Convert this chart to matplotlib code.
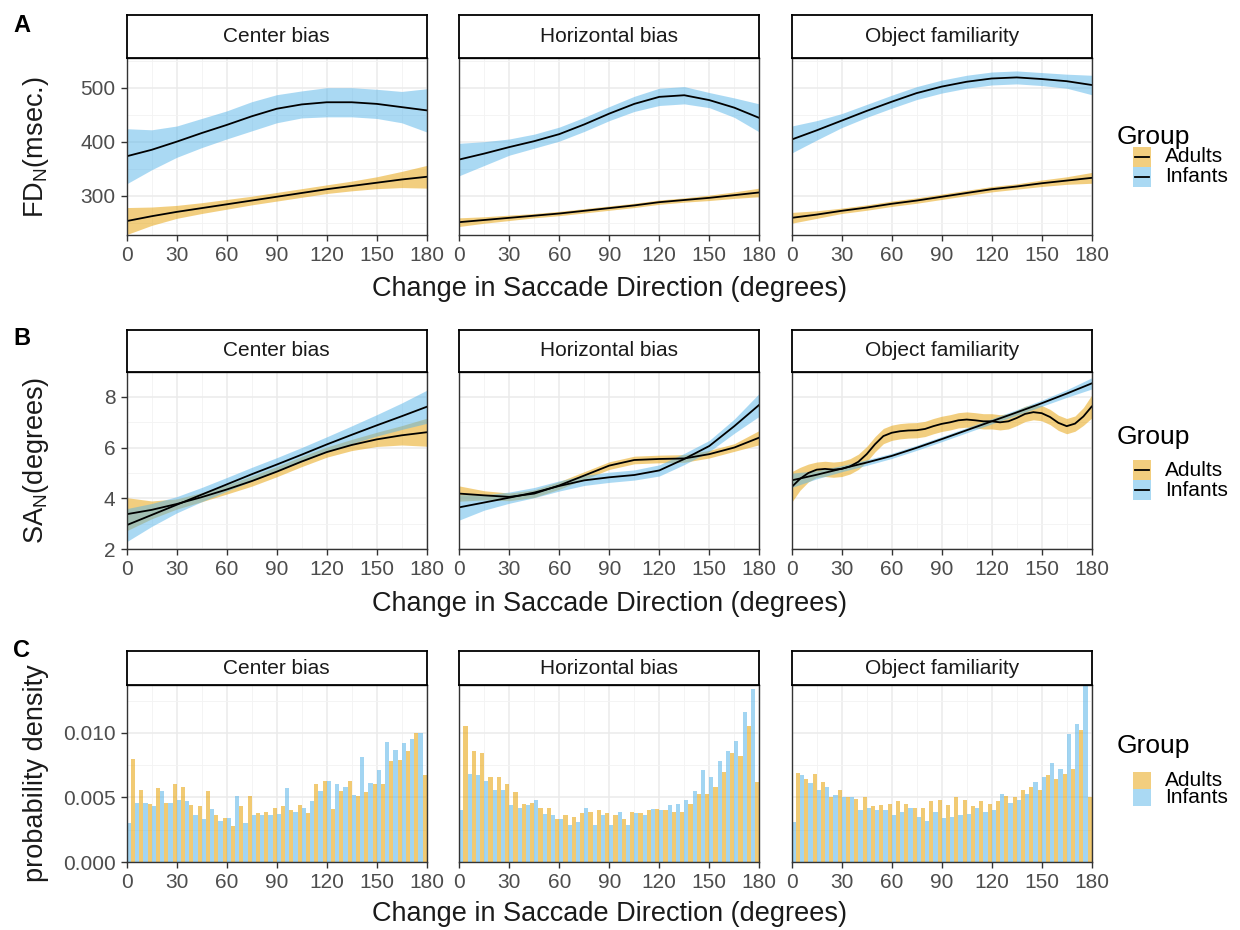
import numpy as np
import matplotlib
matplotlib.use("Agg")
import matplotlib.pyplot as plt
from matplotlib.patches import Rectangle
from matplotlib.lines import Line2D

plt.rcParams['font.family'] = ['Liberation Sans', 'DejaVu Sans']
plt.rcParams['mathtext.default'] = 'regular'

# ---- data ----
facets = ["Center bias", "Horizontal bias", "Object familiarity"]
groups = ["Adults", "Infants"]
colors = {"Adults": "#E69F00", "Infants": "#56B4E9"}

x15 = np.arange(0, 181, 15)
x5 = np.arange(0, 181, 5)

# A: fixation duration (msec), smooth fit and half-width of band
fd_fit = {
    ("Center bias", "Adults"): [253, 262, 270, 277, 284, 291, 298, 305, 312, 318, 324, 330, 335],
    ("Center bias", "Infants"): [373, 385, 400, 416, 431, 447, 461, 469, 473, 473, 470, 464, 458],
    ("Horizontal bias", "Adults"): [251, 255, 259, 263, 267, 272, 277, 282, 288, 292, 296, 301, 306],
    ("Horizontal bias", "Infants"): [367, 378, 390, 401, 414, 432, 452, 470, 483, 486, 477, 463, 444],
    ("Object familiarity", "Adults"): [259, 265, 272, 278, 285, 291, 298, 305, 312, 317, 323, 328, 333],
    ("Object familiarity", "Infants"): [404, 421, 439, 457, 474, 490, 502, 511, 517, 519, 516, 512, 505],
}
fd_ci = {
    ("Center bias", "Adults"): [25, 17, 12, 10, 9, 8, 8, 8, 8, 9, 11, 15, 21],
    ("Center bias", "Infants"): [51, 37, 29, 27, 26, 27, 26, 25, 27, 27, 27, 29, 40],
    ("Horizontal bias", "Adults"): [8, 6, 5, 4, 4, 4, 4, 4, 4, 4, 5, 6, 8],
    ("Horizontal bias", "Infants"): [30, 22, 15, 13, 13, 13, 13, 14, 16, 16, 14, 18, 26],
    ("Object familiarity", "Adults"): [10, 7, 5, 5, 5, 5, 5, 5, 5, 5, 6, 7, 10],
    ("Object familiarity", "Infants"): [25, 18, 13, 12, 12, 12, 12, 12, 12, 12, 12, 13, 18],
}

# B: saccade amplitude (degrees)
sa_fit = {
    ("Center bias", "Adults"): [3.38, 3.55, 3.78, 4.05, 4.35, 4.68, 5.05, 5.45, 5.82, 6.10, 6.32, 6.48, 6.60],
    ("Center bias", "Infants"): [2.95, 3.35, 3.75, 4.15, 4.55, 4.95, 5.33, 5.72, 6.12, 6.50, 6.87, 7.23, 7.60],
    ("Horizontal bias", "Adults"): [4.19, 4.12, 4.06, 4.19, 4.51, 4.90, 5.29, 5.51, 5.55, 5.57, 5.74, 6.00, 6.39],
    ("Horizontal bias", "Infants"): [3.65, 3.84, 4.03, 4.23, 4.49, 4.71, 4.83, 4.92, 5.10, 5.55, 6.06, 6.84, 7.68],
    ("Object familiarity", "Adults"): [4.45, 4.77, 5.00, 5.13, 5.16, 5.13, 5.16, 5.26, 5.44, 5.74, 6.13, 6.45,
                                       6.58, 6.64, 6.67, 6.68, 6.73, 6.84, 6.93, 6.99, 7.07, 7.10, 7.07, 7.03,
                                       7.03, 6.99, 7.03, 7.16, 7.32, 7.39, 7.35, 7.20, 6.97, 6.84, 6.94, 7.22, 7.61],
    ("Object familiarity", "Infants"): [4.71, 4.93, 5.17, 5.41, 5.67, 5.99, 6.33, 6.68, 7.03, 7.38, 7.74, 8.12, 8.52],
}
sa_ci = {
    ("Center bias", "Adults"): [0.65, 0.35, 0.20, 0.18, 0.18, 0.20, 0.20, 0.20, 0.20, 0.22, 0.28, 0.38, 0.55],
    ("Center bias", "Infants"): [0.65, 0.45, 0.32, 0.28, 0.27, 0.27, 0.27, 0.28, 0.30, 0.35, 0.42, 0.52, 0.65],
    ("Horizontal bias", "Adults"): [0.30, 0.18, 0.15, 0.15, 0.15, 0.15, 0.15, 0.15, 0.15, 0.15, 0.15, 0.15, 0.28],
    ("Horizontal bias", "Infants"): [0.50, 0.30, 0.22, 0.20, 0.20, 0.20, 0.20, 0.20, 0.22, 0.22, 0.22, 0.28, 0.45],
    ("Object familiarity", "Adults"): [0.60, 0.45, 0.35] + [0.30] * 32 + [0.35, 0.45],
    ("Object familiarity", "Infants"): [0.28, 0.16, 0.12, 0.11, 0.10, 0.10, 0.10, 0.10, 0.10, 0.11, 0.12, 0.15, 0.22],
}
sa_x = {"Center bias": (x15, x15), "Horizontal bias": (x15, x15), "Object familiarity": (x5, x15)}

# C: histogram, bins of 5 deg centred on 0..180 (per mille density)
adult_bins = np.arange(5, 181, 5)
infant_bins = np.arange(0, 176, 5)
hist_adults = {
    "Center bias": [8.0, 5.6, 4.5, 5.7, 4.6, 6.0, 5.8, 4.4, 4.3, 5.5, 3.6, 3.4, 2.8, 4.3, 5.1, 3.8, 3.9, 4.2,
                    4.3, 4.0, 4.4, 3.8, 6.0, 6.3, 4.1, 5.5, 6.3, 5.1, 5.4, 6.0, 6.0, 7.8, 7.9, 8.6, 10.0, 6.7],
    "Horizontal bias": [10.5, 8.6, 8.4, 6.6, 6.6, 6.0, 5.4, 4.5, 4.6, 4.2, 4.2, 3.3, 3.6, 3.5, 3.8, 3.9, 4.0, 3.8,
                        3.6, 3.3, 3.9, 3.8, 4.0, 4.1, 4.0, 3.9, 3.9, 4.5, 5.3, 5.3, 5.8, 7.0, 8.4, 8.2, 10.5, 6.2],
    "Object familiarity": [6.9, 6.4, 6.8, 6.2, 5.0, 5.6, 5.0, 4.9, 5.0, 4.3, 4.4, 4.5, 4.7, 4.5, 4.2, 4.2, 4.7, 4.8,
                           4.4, 5.0, 4.8, 4.3, 4.7, 4.5, 4.7, 5.1, 5.0, 5.6, 5.8, 5.6, 6.7, 6.4, 6.8, 7.2, 10.2, 5.0],
}
hist_infants = {
    "Center bias": [3.0, 4.6, 4.6, 4.3, 5.5, 4.6, 4.8, 4.7, 3.6, 3.3, 4.1, 3.2, 3.4, 5.1, 3.0, 3.6, 3.6, 3.6,
                    3.7, 5.7, 3.9, 4.2, 4.7, 5.5, 6.3, 6.0, 5.8, 5.2, 8.1, 6.1, 7.1, 9.3, 8.7, 9.2, 9.5, 10.0],
    "Horizontal bias": [4.0, 6.8, 6.7, 6.3, 5.6, 5.6, 4.4, 4.2, 4.4, 4.8, 3.7, 3.6, 3.3, 2.9, 3.1, 4.2, 2.9, 3.6,
                        2.9, 3.9, 2.9, 3.8, 3.6, 4.1, 4.0, 4.4, 4.5, 4.8, 5.5, 7.1, 6.6, 7.8, 8.6, 9.4, 11.6, 13.4],
    "Object familiarity": [3.1, 6.7, 6.1, 5.6, 5.8, 5.2, 5.0, 5.0, 4.0, 4.2, 4.0, 4.0, 3.6, 3.9, 4.2, 3.5, 3.2, 3.9,
                           3.4, 3.5, 3.6, 3.7, 4.2, 3.9, 4.0, 5.3, 4.6, 4.8, 5.3, 6.2, 6.6, 7.7, 7.2, 9.9, 10.7, 13.6],
}

# ---- layout (pixels) ----
W, H = 1240, 930
fig = plt.figure(figsize=(W / 100, H / 100), dpi=100)
panel_x = [(126.7, 426.7), (459.3, 759.3), (791.7, 1091.7)]
rows = {"A": ((15, 58.3), (58.3, 235)), "B": ((330, 371.7), (371.7, 549.3)), "C": ((651, 685), (685, 862))}


def px_axes(x0, y0, x1, y1):
    return fig.add_axes([x0 / W, 1 - y1 / H, (x1 - x0) / W, (y1 - y0) / H])


def style_panel(ax, ylim, yticks, yminor, show_y, labels=None):
    ax.set_xlim(0, 180)
    ax.set_xticks(range(0, 181, 30))
    ax.set_xticks(range(15, 180, 30), minor=True)
    ax.set_ylim(ylim)
    ax.set_yticks(yticks)
    if labels:
        ax.set_yticklabels(labels)
    ax.set_yticks(yminor, minor=True)
    ax.grid(which="major", color="#EBEBEB", lw=1.1)
    ax.grid(which="minor", color="#F3F3F3", lw=0.6)
    ax.set_axisbelow(True)
    for s in ax.spines.values():
        s.set_color("#333333")
        s.set_linewidth(1.0)
    ax.tick_params(which="major", length=4, width=1, color="#333333", labelsize=15,
                   labelcolor="#4D4D4D", pad=4)
    ax.tick_params(which="minor", length=0)
    if not show_y:
        ax.tick_params(axis="y", which="both", left=False, labelleft=False)


def strip(x0, x1, y0, y1, name):
    sax = px_axes(x0, y0, x1, y1)
    sax.set_xticks([])
    sax.set_yticks([])
    for s in sax.spines.values():
        s.set_color("black")
        s.set_linewidth(1.3)
    sax.text(0.5, 0.5, name, ha="center", va="center", fontsize=15, color="#1A1A1A",
             transform=sax.transAxes)


def legend(y_title, y_key, key_h, with_line):
    fig.text(1117 / W, 1 - y_title / H, "Group", fontsize=19, va="center", ha="left")
    for i, g in enumerate(groups):
        top = y_key + i * key_h
        fig.add_artist(Rectangle((1133 / W, 1 - (top + key_h) / H), 18 / W, key_h / H,
                                 transform=fig.transFigure, facecolor=colors[g], alpha=0.5, lw=0))
        yc = 1 - (top + key_h / 2) / H
        if with_line:
            fig.add_artist(Line2D([1135 / W, 1149 / W], [yc, yc], color="black", lw=1.3,
                                  transform=fig.transFigure))
        fig.text(1165 / W, yc, g, fontsize=15, va="center", ha="left")


# ---- row A ----
(sy0, sy1), (py0, py1) = rows["A"]
for i, f in enumerate(facets):
    x0, x1 = panel_x[i]
    ax = px_axes(x0, py0, x1, py1)
    for g in groups:
        fit = np.array(fd_fit[(f, g)], float)
        ci = np.array(fd_ci[(f, g)], float)
        ax.fill_between(x15, fit - ci, fit + ci, color=colors[g], alpha=0.5, lw=0)
        ax.plot(x15, fit, color="black", lw=1.3)
    style_panel(ax, (227.2, 554.4), [300, 400, 500], [250, 350, 450, 550], i == 0)
    strip(x0, x1, sy0, sy1, f)

# ---- row B ----
(sy0, sy1), (py0, py1) = rows["B"]
for i, f in enumerate(facets):
    x0, x1 = panel_x[i]
    ax = px_axes(x0, py0, x1, py1)
    for g, xx in zip(groups, sa_x[f]):
        fit = np.array(sa_fit[(f, g)], float)
        ci = np.array(sa_ci[(f, g)], float)
        ax.fill_between(xx, fit - ci, fit + ci, color=colors[g], alpha=0.5, lw=0)
        ax.plot(xx, fit, color="black", lw=1.3)
    style_panel(ax, (2.02, 8.98), [2, 4, 6, 8], [3, 5, 7], i == 0)
    strip(x0, x1, sy0, sy1, f)

# ---- row C ----
(sy0, sy1), (py0, py1) = rows["C"]
for i, f in enumerate(facets):
    x0, x1 = panel_x[i]
    ax = px_axes(x0, py0, x1, py1)
    ax.bar(adult_bins - 2.5, np.array(hist_adults[f]) / 1000, width=2.5, align="edge",
           color=colors["Adults"], alpha=0.55, lw=0)
    ax.bar(infant_bins, np.array(hist_infants[f]) / 1000, width=2.5, align="edge",
           color=colors["Infants"], alpha=0.55, lw=0)
    style_panel(ax, (0, 0.0137), [0, 0.005, 0.010], [0.0025, 0.0075, 0.0125], i == 0,
                labels=["0.000", "0.005", "0.010"])
    strip(x0, x1, sy0, sy1, f)

# ---- titles, labels, legends ----
for letter, y in [("A", 25), ("B", 338), ("C", 650)]:
    fig.text(13 / W, 1 - y / H, letter, fontsize=17, weight="bold", va="center", ha="left")

for y in [289, 604, 914]:
    fig.text(609.3 / W, 1 - y / H, "Change in Saccade Direction (degrees)", fontsize=19.5,
             ha="center", va="center", color="#1A1A1A")

for text, y in [("FD$_{N}$(msec.)", 147), ("SA$_{N}$(degrees)", 460), ("probability density", 773)]:
    fig.text(36 / W, 1 - y / H, text, fontsize=19.5, rotation=90, ha="center", va="center",
             color="#1A1A1A")

legend(137, 147, 20, True)
legend(437, 460, 20, True)
legend(746, 772, 17, False)

fig.savefig("out.png", dpi=100)
